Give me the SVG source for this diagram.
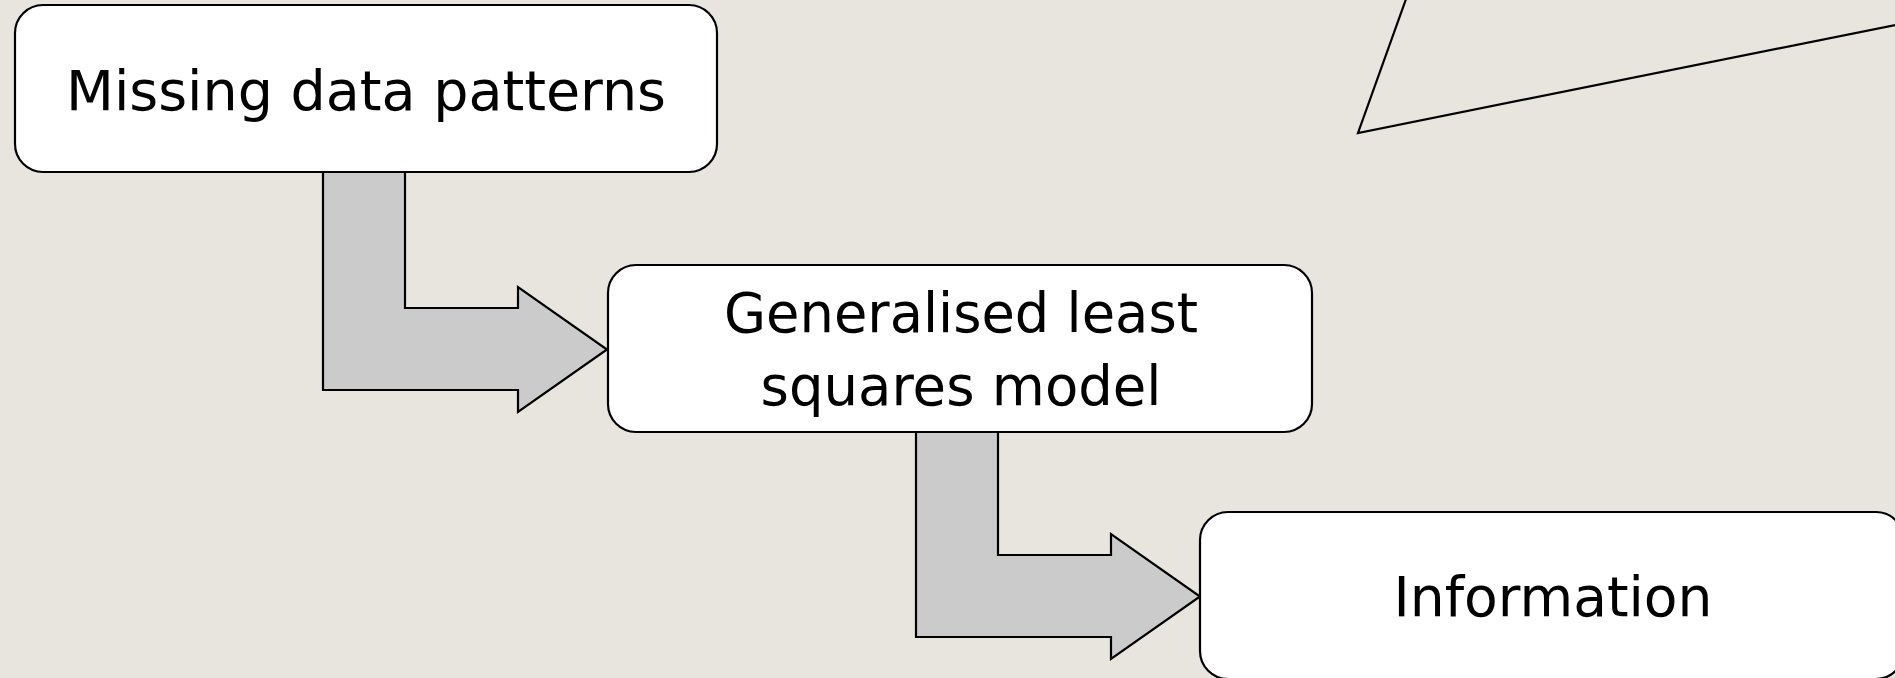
<svg xmlns="http://www.w3.org/2000/svg" width="1895" height="678" viewBox="0 0 1895 678">
  <style>
    .bg { fill: #E8E5DF; }
    .box { fill: #FFFFFF; stroke: #000000; stroke-width: 2.2; }
    .flow { fill: #CBCBCB; stroke: #000000; stroke-width: 2.2; stroke-linejoin: miter; }
    .deco { fill: none; stroke: #000000; stroke-width: 2.2; stroke-linejoin: miter; }
    .label { font-family: "DejaVu Sans", "Noto Sans", sans-serif; font-size: 56px; fill: #000000; text-anchor: middle; }
  </style>

  <rect class="bg" x="0" y="0" width="1895" height="678"/>

  <!-- open triangle outline in the top-right corner -->
  <path class="deco" d="M1420,-40 L1358,133 L1960,12"/>

  <!-- bent block arrows between the steps -->
  <g id="connectors">
    <path class="flow" d="M323,172 L405,172 L405,308 L518,308 L518,287 L607,349.5 L518,412 L518,390 L323,390 Z"/>
    <path class="flow" d="M916,432 L998,432 L998,555 L1111,555 L1111,534 L1200,596.5 L1111,659 L1111,637 L916,637 Z"/>
  </g>

  <g id="missing-data-patterns">
    <rect class="box" x="15" y="5" width="702" height="167" rx="28" ry="28"/>
    <text class="label" x="366" y="110" textLength="600" lengthAdjust="spacingAndGlyphs">Missing data patterns</text>
  </g>

  <g id="generalised-least-squares-model">
    <rect class="box" x="608" y="265" width="704" height="167" rx="28" ry="28"/>
    <text class="label" x="961" y="331.5" textLength="474" lengthAdjust="spacingAndGlyphs">Generalised least</text>
    <text class="label" x="961" y="405" textLength="401" lengthAdjust="spacingAndGlyphs">squares model</text>
  </g>

  <g id="information">
    <rect class="box" x="1200" y="512" width="704" height="167" rx="28" ry="28"/>
    <text class="label" x="1553" y="616" textLength="319" lengthAdjust="spacingAndGlyphs">Information</text>
  </g>
</svg>
